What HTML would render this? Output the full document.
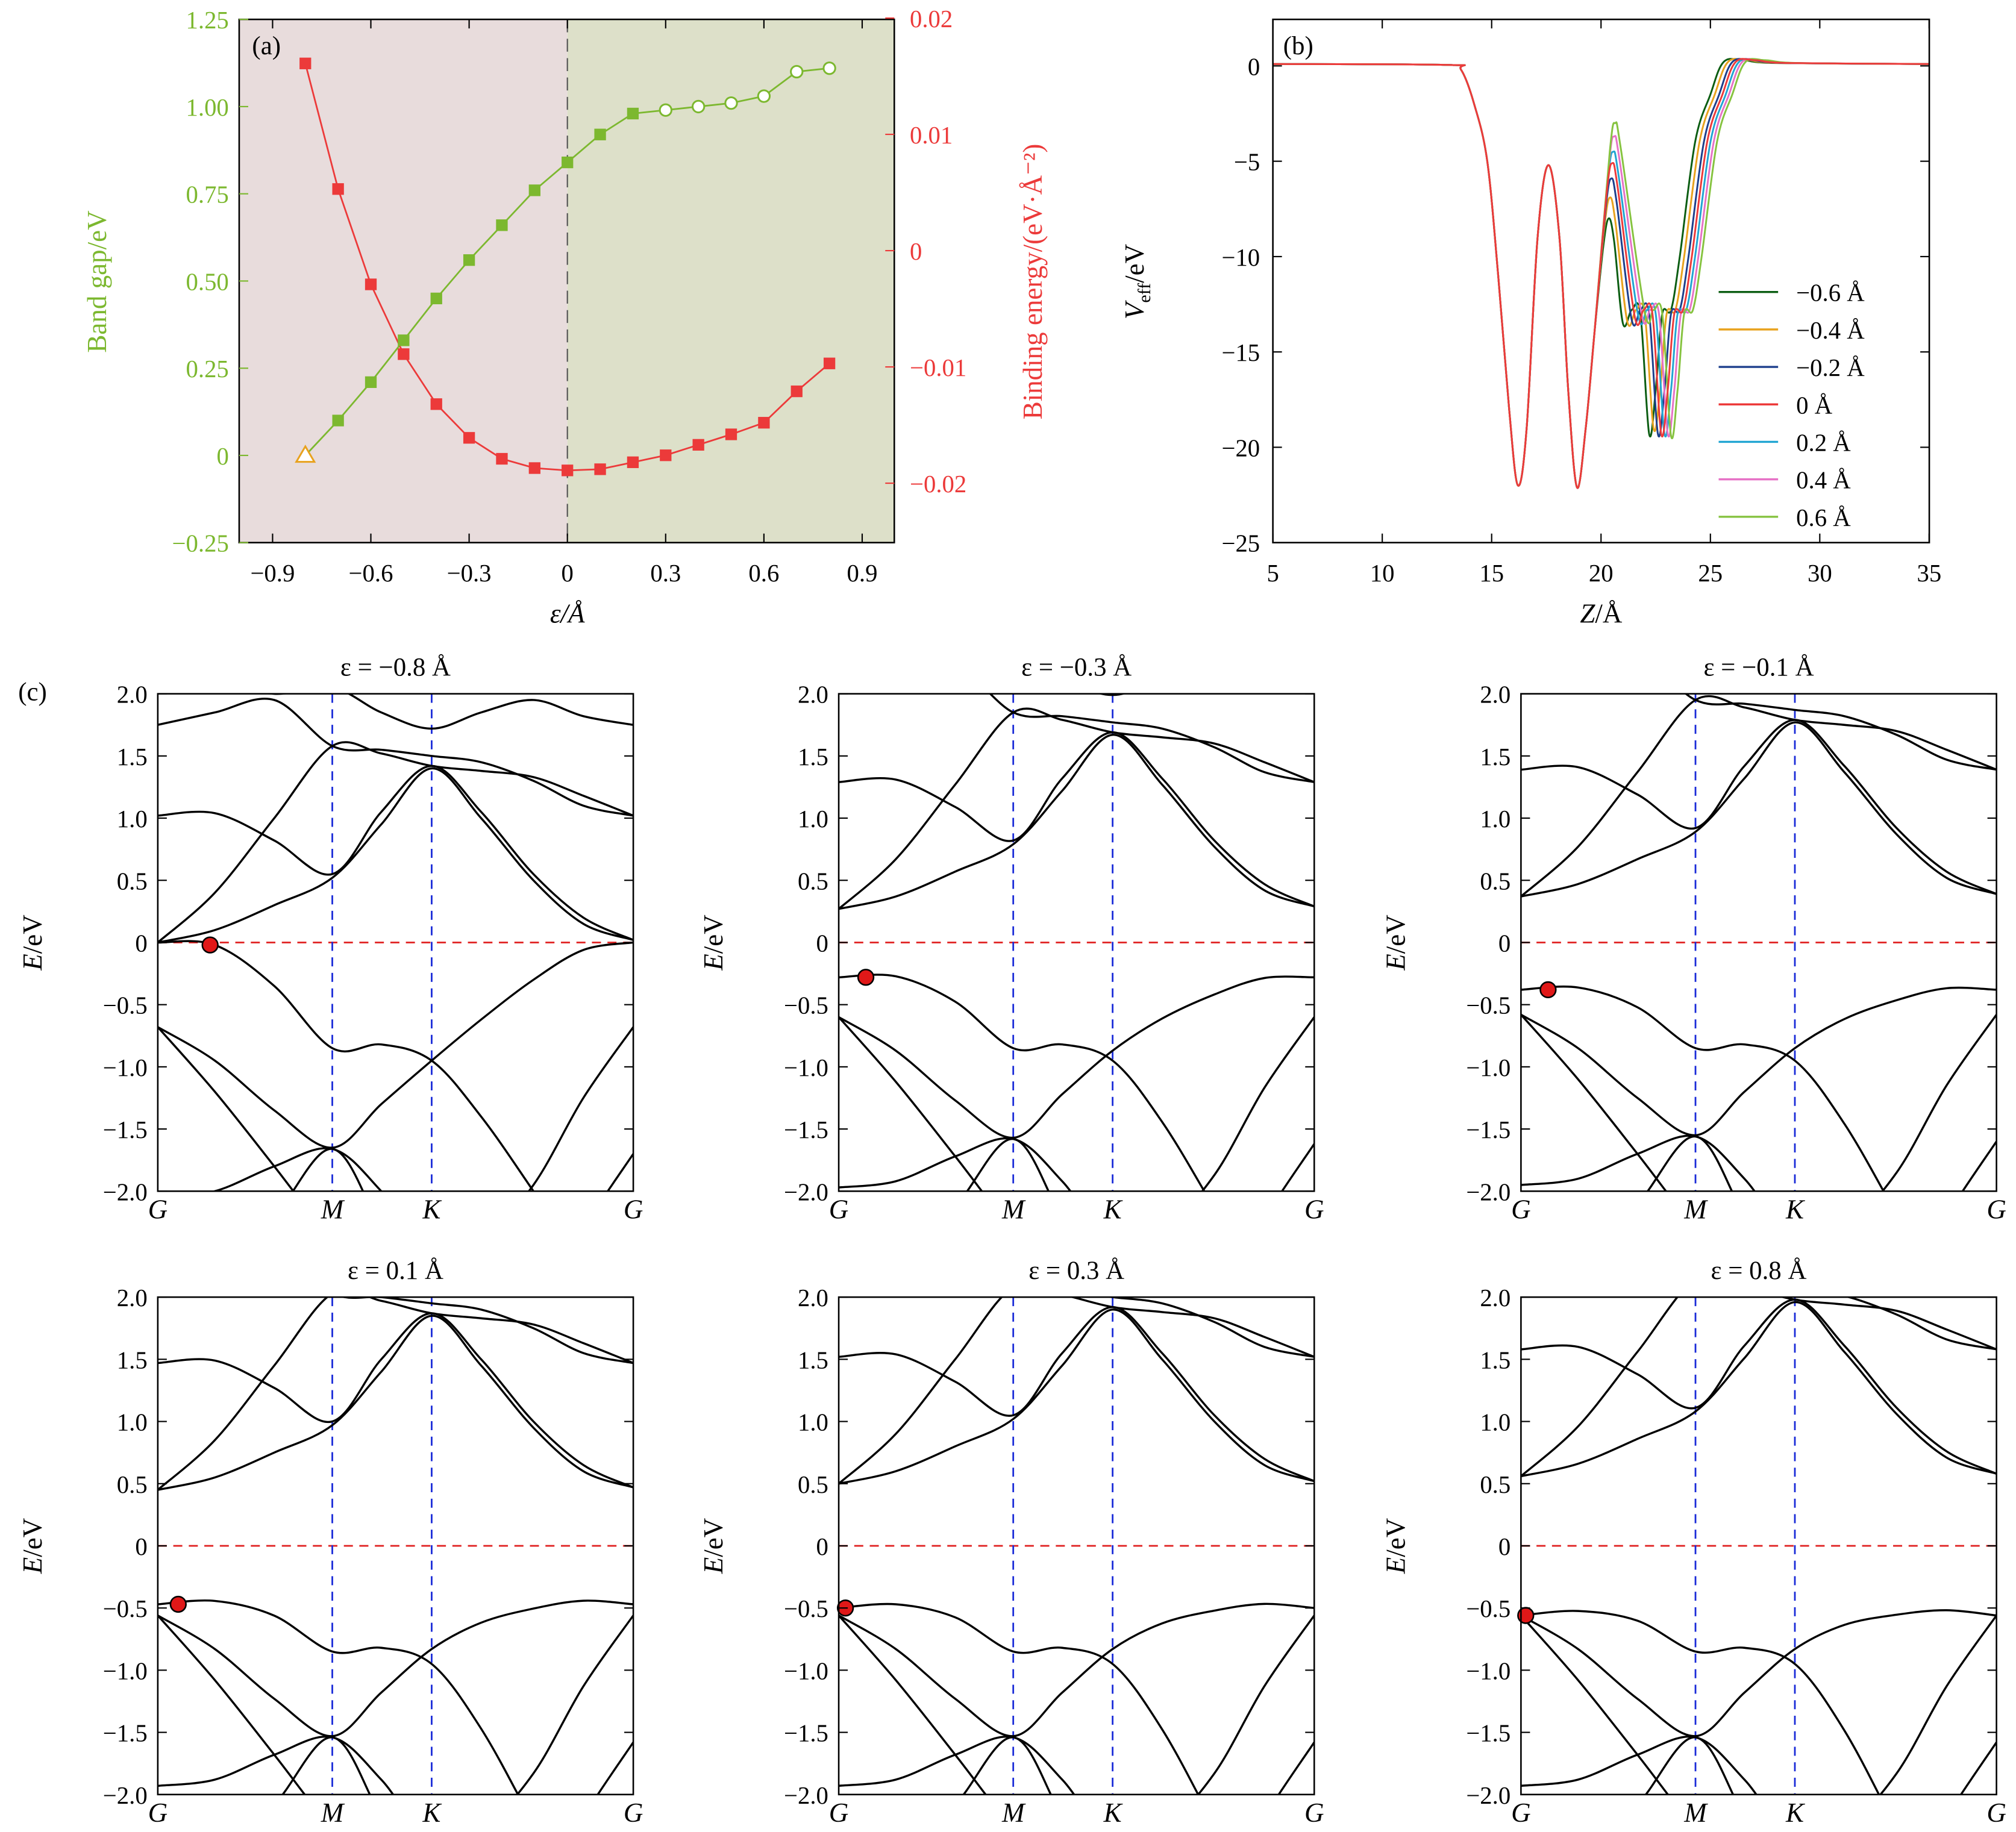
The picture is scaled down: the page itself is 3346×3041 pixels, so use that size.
<!DOCTYPE html>
<html><head><meta charset="utf-8">
<style>
html,body{margin:0;padding:0;background:#fff;width:3346px;height:3041px;overflow:hidden;}
svg{display:block;}
text{font-family:"Liberation Serif",serif;}
</style></head>
<body>
<svg id="chart" xmlns="http://www.w3.org/2000/svg" width="3346" height="3041" viewBox="0 0 1560 1418"></svg>
<script>
// ---------- Panel (a) data ----------
const strainA = [-0.8,-0.7,-0.6,-0.5,-0.4,-0.3,-0.2,-0.1,0,0.1,0.2,0.3,0.4,0.5,0.6,0.7,0.8];
const bandGap = [0,0.10,0.21,0.33,0.45,0.56,0.66,0.76,0.84,0.92,0.98,0.99,1.00,1.01,1.03,1.10,1.11];
const bindingE = [0.0161,0.0053,-0.0029,-0.0089,-0.0132,-0.0161,-0.0179,-0.0187,-0.0189,-0.0188,-0.0182,-0.0176,-0.0167,-0.0158,-0.0148,-0.0121,-0.0097];
const xTicksA = [-0.9,-0.6,-0.3,0,0.3,0.6,0.9];
const yTicksGap = [-0.25,0,0.25,0.5,0.75,1.0,1.25];
const yTicksBind = [-0.02,-0.01,0,0.01,0.02];

// ---------- Panel (b) data ----------
const seriesLabels = ['\u22120.6 \u00c5','\u22120.4 \u00c5','\u22120.2 \u00c5','0 \u00c5','0.2 \u00c5','0.4 \u00c5','0.6 \u00c5'];
const seriesColors = ['#0b5d12','#e8a21e','#1d3f8c','#ec3a3a','#21a5d2','#e672c6','#86c340'];
const commonZ = [5,13,13.6,14.2,14.8,15.3,15.8,16.2,16.6,17.1,17.6,18.1,18.5,18.9,19.3,19.7];
const commonV = [0.1,0.05,-0.2,-2,-5,-11,-18,-22,-19,-9,-5.2,-9,-17,-22.1,-19,-14];
const tailZ = [20.1,20.35,20.6,21.0,21.4,21.8,22.2,22.5,22.8,23.2,23.6,24.3,25,25.6,26.5,28,35];
const tailShift = [0,0.2,0.4,0.55,0.7,0.85,1.0];
const tailV0 = [-9.5,-8.0,-9.2,-13.5,-12.8,-13,-19.3,-17,-13,-12.8,-10,-4,-1.5,0.2,0.3,0.15,0.1];
const tailV1 = [-8.4,-6.9,-8.2,-13.4,-12.8,-13,-19.0,-17,-13,-12.8,-10,-4,-1.5,0.2,0.3,0.15,0.1];
const tailV2 = [-7.4,-5.9,-7.2,-13.3,-12.8,-13,-19.3,-17,-13,-12.8,-10,-4,-1.5,0.2,0.3,0.15,0.1];
const tailV3 = [-6.6,-5.1,-6.4,-13.2,-12.8,-13,-19.3,-17,-13,-12.8,-10,-4,-1.5,0.2,0.3,0.15,0.1];
const tailV4 = [-6.0,-4.5,-5.8,-13.1,-12.8,-13,-19.3,-17,-13,-12.8,-10,-4,-1.5,0.2,0.3,0.15,0.1];
const tailV5 = [-5.2,-3.7,-5.0,-13.0,-12.8,-13,-19.3,-17,-13,-12.8,-10,-4,-1.5,0.2,0.3,0.15,0.1];
const tailV6 = [-4.5,-3.0,-4.3,-12.9,-12.8,-13,-19.4,-17,-13,-12.8,-10,-4,-1.5,0.2,0.3,0.15,0.1];
const tailVs = [tailV0,tailV1,tailV2,tailV3,tailV4,tailV5,tailV6];
const drawOrder = [0,1,2,4,5,6,3];
const xTicksB = [5,10,15,20,25,30,35];
const yTicksB = [0,-5,-10,-15,-20,-25];

// ---------- Panel (c) data ----------
const panelTitles = ['\u03b5 = \u22120.8 \u00c5','\u03b5 = \u22120.3 \u00c5','\u03b5 = \u22120.1 \u00c5','\u03b5 = 0.1 \u00c5','\u03b5 = 0.3 \u00c5','\u03b5 = 0.8 \u00c5'];
const kSamples = [0,0.12,0.245,0.367,0.47,0.576,0.68,0.79,0.895,1];
const cbBands = [
  [0,0.1,0.3,0.52,0.95,1.4,1.0,0.5,0.15,0.02],
  [1.02,1.04,0.82,0.55,1.05,1.42,1.05,0.55,0.2,0.02],
  [0,0.4,1.0,1.58,1.52,1.42,1.38,1.33,1.18,1.02],
  [1.75,1.85,1.95,1.58,1.55,1.5,1.45,1.3,1.1,1.02],
  [2.3,2.1,2.0,2.05,1.85,1.72,1.85,1.95,1.82,1.75]
];
const vbBands = [
  [0,-0.02,-0.35,-0.85,-0.82,-0.95,-1.4,-2.0,-2.6,-3.0],
  [-0.68,-0.95,-1.35,-1.65,-1.3,-0.95,-0.62,-0.3,-0.06,0],
  [-0.68,-1.2,-1.8,-2.4,-2.8,-3,-3,-3,-3,-3],
  [-2.05,-2.0,-1.8,-1.66,-2.0,-2.5,-2.4,-1.95,-1.25,-0.68],
  [-3,-2.6,-2.2,-1.66,-2.3,-3,-3,-3,-2.3,-1.7]
];
// weight of strain shift along k for top valence band and for the band rising to right G
const vbTopWeight = [1,0.9,0.45,0,0,0,0.15,0.5,0.85,1];
const vbRiseWeight = [0,0,0,0,0,0,0.2,0.55,0.85,1];
const cbShift = [0,0.27,0.37,0.45,0.5,0.56];
const vbShift = [0,-0.28,-0.38,-0.47,-0.5,-0.56];
const vbLowShift = [0,0.08,0.1,0.12,0.12,0.12];
const dotK = [0.11,0.057,0.057,0.043,0.014,0.01];
const dotE = [-0.02,-0.28,-0.38,-0.47,-0.5,-0.56];
const kLabels = ['G','M','K','G'];
const kLabelPos = [0,0.367,0.576,1];
const yTicksC = [2.0,1.5,1.0,0.5,0,-0.5,-1.0,-1.5,-2.0];

// ---------- helpers ----------
const NS='http://www.w3.org/2000/svg';
const svg=document.getElementById('chart');
function mk(tag,attrs,parent){const e=document.createElementNS(NS,tag);for(const k in attrs)e.setAttribute(k,attrs[k]);(parent||svg).appendChild(e);return e;}
function txt(x,y,s,attrs,parent){const e=mk('text',Object.assign({x:x,y:y},attrs),parent);e.textContent=s;return e;}
function fmt(v,d){const s=Math.abs(v).toFixed(d);return (v<0?'\u2212':'')+s;}
function smooth(pts){let d='M'+pts[0][0]+','+pts[0][1];for(let i=0;i<pts.length-1;i++){const p0=pts[Math.max(0,i-1)],p1=pts[i],p2=pts[i+1],p3=pts[Math.min(pts.length-1,i+2)];const c1x=p1[0]+(p2[0]-p0[0])/6,c1y=p1[1]+(p2[1]-p0[1])/6,c2x=p2[0]-(p3[0]-p1[0])/6,c2y=p2[1]-(p3[1]-p1[1])/6;d+=' C'+c1x+','+c1y+' '+c2x+','+c2y+' '+p2[0]+','+p2[1];}return d;}

// ================= Panel (a) =================
const xa=v=>439+v*253.5, ya=v=>352.5-v*270, yb=v=>194-v*9000;
const A_L=185,A_R=692,A_T=15,A_B=420;
const gA=mk('g',{});


let e;
e=mk('rect',{x:A_L,y:A_T,width:xa(0)-A_L,height:A_B-A_T,fill:'#e8dcdc'},gA);


e=mk('rect',{x:xa(0),y:A_T,width:A_R-xa(0),height:A_B-A_T,fill:'#dde0c9'},gA);


e=mk('line',{x1:xa(0),x2:xa(0),y1:A_T,y2:A_B,stroke:'#555','stroke-dasharray':'10,5','stroke-width':1},gA);


e=mk('rect',{x:A_L,y:A_T,width:A_R-A_L,height:A_B-A_T,fill:'none',stroke:'#000','stroke-width':1.2},gA);


xTicksA.forEach(v=>{
  e=mk('line',{x1:xa(v),x2:xa(v),y1:A_B,y2:A_B-7,stroke:'#000'},gA);
  
  
  mk('line',{x1:xa(v),x2:xa(v),y1:A_T,y2:A_T+7,stroke:'#000'},gA);
  e=txt(xa(v),A_B+30,v===0?'0':fmt(v,1),{'font-size':19,'text-anchor':'middle'},gA);
  
  
});
yTicksGap.forEach(v=>{
  e=mk('line',{x1:A_L,x2:A_L+7,y1:ya(v),y2:ya(v),stroke:'#7cb82f'},gA);
  
  
  e=txt(A_L-8,ya(v)+7,v===0?'0':fmt(v,2),{'font-size':19,'text-anchor':'end',fill:'#7cb82f'},gA);
  
  
});
yTicksBind.forEach(v=>{
  e=mk('line',{x1:A_R,x2:A_R-7,y1:yb(v),y2:yb(v),stroke:'#ec3a3a'},gA);
  
  
  e=txt(A_R+12,yb(v)+7,v===0?'0':fmt(v,2),{'font-size':19,'text-anchor':'start',fill:'#ec3a3a'},gA);
  
  
});
e=txt(0,0,'Band gap/eV',{'font-size':21,fill:'#7cb82f','text-anchor':'middle',transform:'translate(82,218) rotate(-90)'},gA);


e=txt(0,0,'Binding energy/(eV\u00b7\u00c5\u207b\u00b2)',{'font-size':21,fill:'#ec3a3a','text-anchor':'middle',transform:'translate(806,218) rotate(-90)'},gA);


e=txt(439,482,'\u03b5/\u00c5',{'font-size':21,'text-anchor':'middle','font-style':'italic'},gA);


e=txt(195,42,'(a)',{'font-size':20},gA);


e=mk('polyline',{points:strainA.map((s,i)=>xa(s)+','+ya(bandGap[i])).join(' '),fill:'none',stroke:'#7cb82f','stroke-width':1.3},gA);


e=mk('polyline',{points:strainA.map((s,i)=>xa(s)+','+yb(bindingE[i])).join(' '),fill:'none',stroke:'#ec3a3a','stroke-width':1.3},gA);


strainA.forEach((s,i)=>{
  const x=xa(s),y=ya(bandGap[i]);
  if(i===0){
    e=mk('polygon',{points:(x)+','+(y-7)+' '+(x-7)+','+(y+5)+' '+(x+7)+','+(y+5),fill:'#fff',stroke:'#e8a21e','stroke-width':1.4},gA);
  } else if(s>=0.3){
    e=mk('circle',{cx:x,cy:y,r:4.5,fill:'#fff',stroke:'#7cb82f','stroke-width':1.4},gA);
  } else {
    e=mk('rect',{x:x-4.5,y:y-4.5,width:9,height:9,fill:'#7cb82f'},gA);
  }
  
  
  const yy=yb(bindingE[i]);
  e=mk('rect',{x:x-4.5,y:yy-4.5,width:9,height:9,fill:'#ec3a3a'},gA);
  
  
});

// ================= Panel (b) =================
const xb=z=>985+(z-5)*16.93, yv=v=>51-v*14.76;
const B_L=985,B_R=1493,B_T=15,B_B=420;
const gB=mk('g',{});


const clipB=mk('clipPath',{id:'clipB'},gB);
mk('rect',{x:B_L,y:B_T,width:B_R-B_L,height:B_B-B_T},clipB);
const gBL=mk('g',{'clip-path':'url(#clipB)'},gB);
drawOrder.forEach(si=>{
  const tv=tailVs[si];
  const pts=commonZ.map((z,i)=>[xb(z),yv(commonV[i])]);
  tailZ.forEach((z,i)=>{const zz=(i>=3&&i<tailZ.length-1)?z+tailShift[si]:z+(i<3?tailShift[si]*0.3:0);pts.push([xb(zz),yv(tv[i])]);});
  e=mk('path',{d:smooth(pts),fill:'none',stroke:seriesColors[si],'stroke-width':1.4},gBL);
  
  
});
e=mk('rect',{x:B_L,y:B_T,width:B_R-B_L,height:B_B-B_T,fill:'none',stroke:'#000','stroke-width':1.2},gB);


xTicksB.forEach(v=>{
  e=mk('line',{x1:xb(v),x2:xb(v),y1:B_B,y2:B_B-7,stroke:'#000'},gB);
  
  
  mk('line',{x1:xb(v),x2:xb(v),y1:B_T,y2:B_T+7,stroke:'#000'},gB);
  e=txt(xb(v),B_B+30,String(v),{'font-size':19,'text-anchor':'middle'},gB);
  
  
});
yTicksB.forEach(v=>{
  e=mk('line',{x1:B_L,x2:B_L+7,y1:yv(v),y2:yv(v),stroke:'#000'},gB);
  
  
  mk('line',{x1:B_R,x2:B_R-7,y1:yv(v),y2:yv(v),stroke:'#000'},gB);
  e=txt(B_L-10,yv(v)+7,v===0?'0':fmt(v,0),{'font-size':19,'text-anchor':'end'},gB);
  
  
});
e=txt(0,0,'',{'font-size':21,'text-anchor':'middle',transform:'translate(885,218) rotate(-90)'},gB);
e.innerHTML='<tspan font-style="italic">V</tspan><tspan font-size="14" dy="5">eff</tspan><tspan dy="-5">/eV</tspan>';


e=txt(1239,482,'',{'font-size':21,'text-anchor':'middle'},gB);
e.innerHTML='<tspan font-style="italic">Z</tspan>/\u00c5';


e=txt(993,42,'(b)',{'font-size':20},gB);


seriesLabels.forEach((lab,i)=>{
  const y=226+i*29;
  const g=mk('g',{},gB);
  
  
  mk('line',{x1:1330,x2:1376,y1:y,y2:y,stroke:seriesColors[i],'stroke-width':1.6},g);
  txt(1390,y+7,lab,{'font-size':19},g);
});

// ================= Panel (c) =================
const colX=[122,649,1177], rowY=[537,1004], PW=368, PH=385;
e=txt(14,542,'(c)',{'font-size':20});


for(let p=0;p<6;p++){
  const x0=colX[p%3], y0=rowY[Math.floor(p/3)];
  const xk=k=>x0+k*PW, yE=v=>y0+(2-v)*PH/4;
  const g=mk('g',{});
  
  
  const cp=mk('clipPath',{id:'clipC'+p},g);
  mk('rect',{x:x0,y:y0,width:PW,height:PH},cp);
  const gl=mk('g',{'clip-path':'url(#clipC'+p+')'},g);
  e=mk('line',{x1:x0,x2:x0+PW,y1:yE(0),y2:yE(0),stroke:'#e02020','stroke-dasharray':'7,5','stroke-width':1.3},gl);
  
  
  [0.367,0.576].forEach(k=>{
    e=mk('line',{x1:xk(k),x2:xk(k),y1:y0,y2:y0+PH,stroke:'#1a2bd8','stroke-dasharray':'7,5','stroke-width':1.3},gl);
    
    
  });
  cbBands.forEach(b=>{
    e=mk('path',{d:smooth(kSamples.map((k,i)=>[xk(k),yE(b[i]+cbShift[p])])),fill:'none',stroke:'#000','stroke-width':1.6},gl);
    
    
  });
  vbBands.forEach((b,bi)=>{
    const pts=kSamples.map((k,i)=>{
      let s;
      if(bi===0) s=vbShift[p]*vbTopWeight[i];
      else if(bi===1) s=vbShift[p]*vbRiseWeight[i]+vbLowShift[p]*(1-vbRiseWeight[i]);
      else s=vbLowShift[p];
      return [xk(k),yE(b[i]+s)];
    });
    e=mk('path',{d:smooth(pts),fill:'none',stroke:'#000','stroke-width':1.6},gl);
    
    
  });
  e=mk('circle',{cx:xk(dotK[p]),cy:yE(dotE[p]),r:6,fill:'#e01818',stroke:'#000','stroke-width':1.2},g);
  
  
  e=mk('rect',{x:x0,y:y0,width:PW,height:PH,fill:'none',stroke:'#000','stroke-width':1.2},g);
  
  
  yTicksC.forEach(v=>{
    e=mk('line',{x1:x0,x2:x0+7,y1:yE(v),y2:yE(v),stroke:'#000'},g);
    
    
    mk('line',{x1:x0+PW,x2:x0+PW-7,y1:yE(v),y2:yE(v),stroke:'#000'},g);
    e=txt(x0-8,yE(v)+7,v===0?'0':fmt(v,1),{'font-size':19,'text-anchor':'end'},g);
    
    
  });
  kLabels.forEach((l,i)=>{
    e=txt(xk(kLabelPos[i]),y0+PH+21,l,{'font-size':21,'text-anchor':'middle','font-style':'italic'},g);
    
    
  });
  e=txt(x0+PW/2,y0-14,panelTitles[p],{'font-size':20,'text-anchor':'middle'},g);
  
  
  e=txt(0,0,'',{'font-size':21,'text-anchor':'middle',transform:'translate('+(x0-90)+','+(y0+PH/2)+') rotate(-90)'},g);
  e.innerHTML='<tspan font-style="italic">E</tspan>/eV';
  
  
}
</script>
</body></html>
